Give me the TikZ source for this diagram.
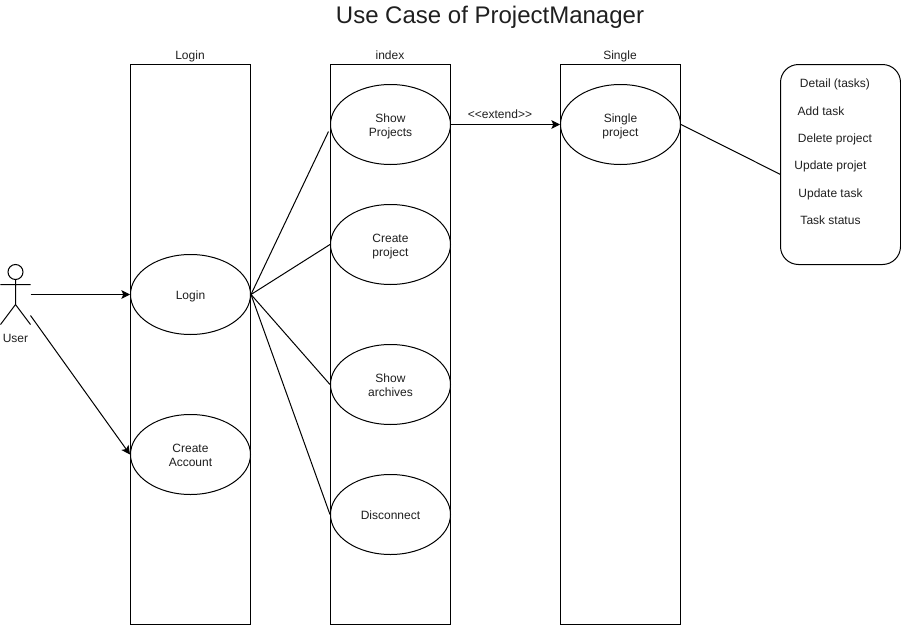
\documentclass[tikz,border=0pt]{standalone}
\usepackage{fontspec}
\setmainfont{Liberation Sans}
\usetikzlibrary{arrows.meta,shapes.geometric}
\definecolor{ink}{gray}{0.12}
\newcommand{\dnline}[1]{\raisebox{-1.1pt}{#1}}
\tikzset{
 x=0.75pt,y=-0.75pt,
 lane/.style={draw,line width=0.75pt,minimum width=90pt,minimum height=420pt,inner sep=0pt},
 uc/.style={draw,fill=white,ellipse,line width=0.75pt,minimum width=90pt,minimum height=60pt,inner sep=0pt,font=\fontsize{9}{10.5}\selectfont,align=center,text=ink,text depth=0pt},
 lbl/.style={font=\fontsize{9}{10.5}\selectfont,inner sep=0pt,text=ink,text depth=0pt},
 conn/.style={line width=0.75pt},
 arr/.style={line width=0.75pt,-{Stealth[length=6.5pt,width=6.5pt,inset=1.5pt]}},
}
\begin{document}
\begin{tikzpicture}
\useasboundingbox (0,0) rectangle (901,625);
\node[font=\fontsize{18}{20}\selectfont,inner sep=0pt,text=ink,text depth=0pt] (title) at (490,14.5) {Use Case of ProjectManager};
\node[lane] (l1) at (190.5,344.5) {};
\node[lane] (l2) at (390.5,344.5) {};
\node[lane] (l3) at (620.5,344.5) {};
\node[lbl] (t1) at (190,55) {Login};
\node[lbl] (t2) at (390,55) {index};
\node[lbl] (t3) at (620,55) {Single};
\node[uc] (login) at (190.5,294.5) {\dnline{Login}};
\node[uc] (create) at (190.5,454.5) {\dnline{Create}\\\dnline{Account}};
\node[uc] (show) at (390.5,124.5) {\dnline{Show}\\\dnline{Projects}};
\node[uc] (cproj) at (390.5,244.5) {\dnline{Create}\\\dnline{project}};
\node[uc] (arch) at (390.5,384.5) {\dnline{Show}\\\dnline{archives}};
\node[uc] (disc) at (390.5,514.5) {\dnline{Disconnect}};
\node[uc] (single) at (620.5,124.5) {\dnline{Single}\\\dnline{project}};
\node[draw,line width=0.75pt,rounded corners=13.5pt,minimum width=90pt,minimum height=150pt,inner sep=0pt] (det) at (840.5,164.5) {};
\node[lbl] (d1) at (835,83) {Detail (tasks)};
\node[lbl] (d2) at (821,111) {Add task};
\node[lbl] (d3) at (835,138) {Delete project};
\node[lbl] (d4) at (830.5,165) {Update projet};
\node[lbl] (d5) at (830.5,193) {Update task};
\node[lbl] (d6) at (830.5,220) {Task status};
% actor
\coordinate (head) at (15.5,272);
\draw[line width=0.75pt] (head) circle (7.5);
\coordinate (neck) at (15.5,279.5);
\coordinate (hip) at (15.5,304.5);
\coordinate (armL) at (0.5,284.5);
\coordinate (armR) at (30.5,284.5);
\coordinate (footL) at (0.5,324.5);
\coordinate (footR) at (30.5,324.5);
\draw[conn] (neck) -- (hip) (armL) -- (armR) (footL) -- (hip) -- (footR);
\node[lbl] (user) at (15.5,338) {User};
\coordinate (u1) at (30.5,294.5);
\coordinate (u2) at (30.5,315.5);
\coordinate (showin) at (328.5,131.5);
\coordinate (detin) at (780.5,174.5);
\draw[arr] (u1) -- (login.west);
\draw[arr] (u2) -- (create.west);
\draw[conn] (login.east) -- (showin);
\draw[conn] (login.east) -- (cproj.west);
\draw[conn] (login.east) -- (arch.west);
\draw[conn] (login.east) -- (disc.west);
\draw[arr] (show.east) -- (single.west);
\node[lbl] (ext) at (500,114.5) {<{}<extend>{}>};
\draw[conn] (single.east) -- (detin);
\end{tikzpicture}
\end{document}
